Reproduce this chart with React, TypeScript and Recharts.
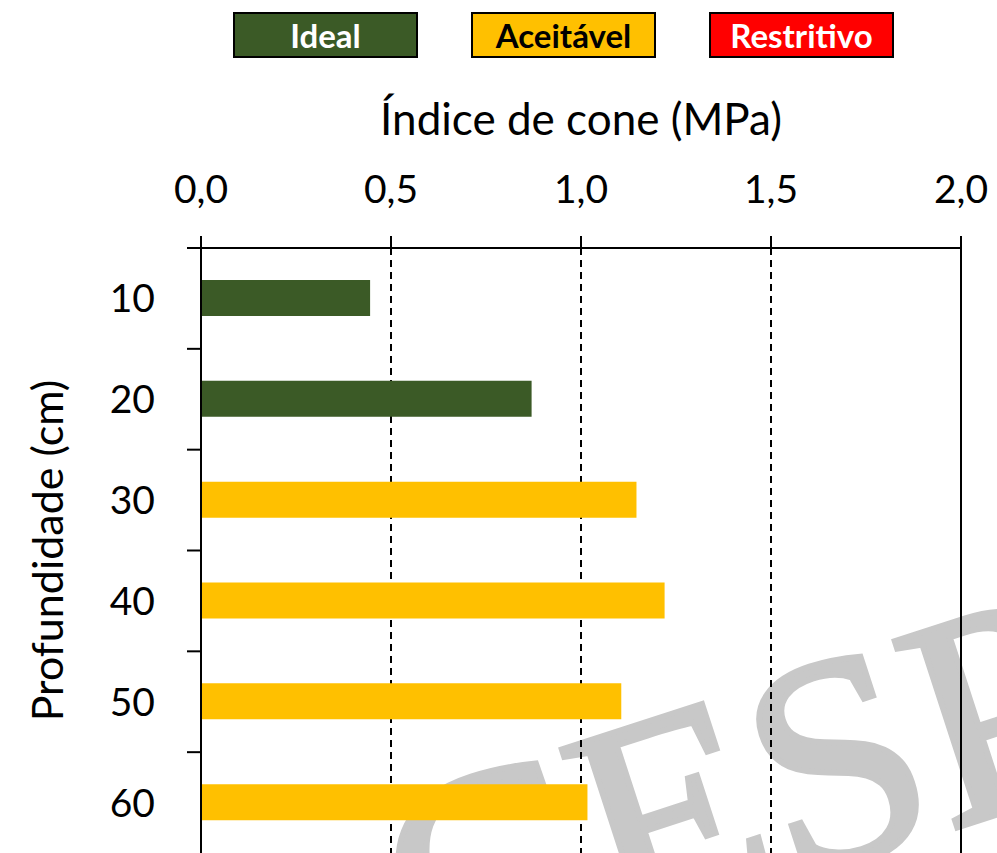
import React from "react";
import {
  BarChart,
  Bar,
  XAxis,
  YAxis,
  CartesianGrid,
  ReferenceLine,
  Cell,
  Label,
} from "recharts";

const depths = ["10", "20", "30", "40", "50", "60"];
const coneIndex = [0.445, 0.87, 1.146, 1.22, 1.106, 1.017];
const classes = ["Ideal", "Ideal", "Aceitável", "Aceitável", "Aceitável", "Aceitável"];
const xTicks = [0, 0.5, 1, 1.5, 2];
const legendItems = ["Ideal", "Aceitável", "Restritivo"];

const classColor: Record<string, string> = {
  Ideal: "#3B5A26",
  Aceitável: "#FFC000",
  Restritivo: "#FF0000",
};
const classText: Record<string, string> = {
  Ideal: "#FFFFFF",
  Aceitável: "#000000",
  Restritivo: "#FFFFFF",
};

const data = depths.map((d, i) => ({ depth: d, value: coneIndex[i], cls: classes[i] }));

const W = 997;
const H = 853;
const PLOT_LEFT = 201;
const PLOT_TOP = 248;
const FONT = "Lato, 'Open Sans', sans-serif";

function DepthTick(props: any) {
  const { y, payload } = props;
  const half =
    typeof payload.offset === "number" && payload.offset > 0
      ? payload.offset
      : (H - PLOT_TOP) / depths.length / 2;
  return (
    <g>
      <line
        x1={PLOT_LEFT - 14}
        x2={PLOT_LEFT}
        y1={y - half}
        y2={y - half}
        stroke="#000"
        strokeWidth={2}
      />
      <text
        x={155}
        y={y}
        dy="0.36em"
        textAnchor="end"
        fontSize={39}
        fontFamily={FONT}
        fill="#000"
      >
        {payload.value}
      </text>
    </g>
  );
}

export default function App() {
  return (
    <div
      style={{
        position: "absolute",
        left: 0,
        top: 0,
        width: W,
        height: H,
        overflow: "hidden",
        background: "#fff",
        fontFamily: FONT,
      }}
    >
      {/* watermark, sits behind the chart */}
      <svg width={W} height={H} style={{ position: "absolute", left: 0, top: 0 }}>
        <text
          x={765}
          y={890}
          textAnchor="middle"
          fontFamily="'Liberation Serif', serif"
          fontSize={300}
          fill="#C8C8C8"
          stroke="#C8C8C8"
          strokeWidth={6}
          transform="rotate(-18 765 890)"
        >
          CESP
        </text>
      </svg>

      <div
        style={{
          position: "absolute",
          left: 233,
          top: 12,
          display: "flex",
          gap: 53,
        }}
      >
        {legendItems.map((c) => (
          <div
            key={c}
            style={{
              width: 185,
              height: 46,
              boxSizing: "border-box",
              border: "2px solid #000",
              background: classColor[c],
              color: classText[c],
              fontWeight: 700,
              fontSize: 33,
              display: "flex",
              alignItems: "center",
              justifyContent: "center",
              lineHeight: 1,
            }}
          >
            {c}
          </div>
        ))}
      </div>

      <div style={{ position: "absolute", left: 0, top: 0 }}>
        <BarChart
          width={W}
          height={H}
          data={data}
          layout="vertical"
          margin={{ top: PLOT_TOP - 150, right: 36, bottom: 0, left: 0 }}
          barSize={36}
        >
          <CartesianGrid
            horizontal={false}
            stroke="#000"
            strokeWidth={2}
            strokeDasharray="7 5"
          />
          <XAxis
            type="number"
            orientation="top"
            domain={[0, 2]}
            ticks={xTicks}
            height={150}
            tickFormatter={(v: number) => v.toFixed(1).replace(".", ",")}
            tick={{ fontSize: 39, fill: "#000", fontFamily: FONT }}
            tickSize={12}
            tickMargin={33}
            tickLine={{ stroke: "#000", strokeWidth: 2 }}
            axisLine={{ stroke: "#000", strokeWidth: 2 }}
            interval={0}
          >
            <Label
              value="Índice de cone (MPa)"
              position="insideTop"
              offset={6}
              style={{ fontSize: 44, fill: "#000", fontFamily: FONT }}
            />
          </XAxis>
          <YAxis
            type="category"
            dataKey="depth"
            width={PLOT_LEFT}
            tick={<DepthTick />}
            tickLine={false}
            axisLine={{ stroke: "#000", strokeWidth: 2 }}
            interval={0}
          >
            <Label
              value="Profundidade (cm)"
              position="insideLeft"
              angle={-90}
              offset={48}
              style={{ fontSize: 43, fill: "#000", fontFamily: FONT, textAnchor: "middle" }}
            />
          </YAxis>
          <ReferenceLine x={2} stroke="#000" strokeWidth={2} />
          <Bar dataKey="value" isAnimationActive={false}>
            {data.map((d) => (
              <Cell key={d.depth} fill={classColor[d.cls]} />
            ))}
          </Bar>
        </BarChart>
      </div>
    </div>
  );
}
